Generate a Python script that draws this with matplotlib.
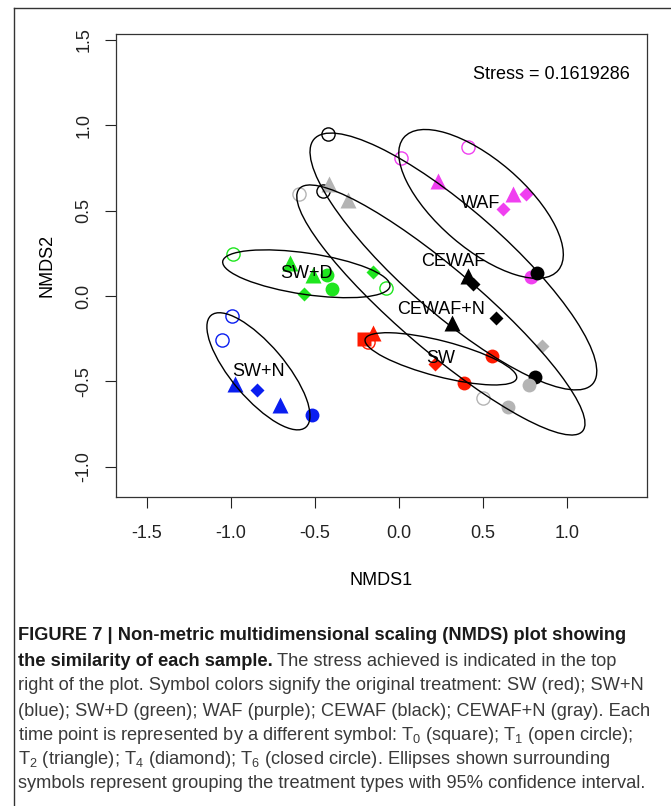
import numpy as np
import matplotlib
matplotlib.use("Agg")
import matplotlib.pyplot as plt
from matplotlib.patches import Ellipse
from matplotlib.lines import Line2D

plt.rcParams['font.family'] = ['Liberation Sans', 'DejaVu Sans']
plt.rcParams['mathtext.default'] = 'regular'
plt.rcParams['axes.unicode_minus'] = False

# NMDS scores
nmds1 = [-0.208, -0.185, -0.157, 0.214, 0.552, 0.389,
         -0.996, -1.055, -0.976, -0.708, -0.843, -0.520,
         -0.986, -0.079, -0.649, -0.510, -0.430, -0.401, -0.564, -0.153,
         0.012, 0.413, 0.230, 0.680, 0.756, 0.617, 0.784,
         -0.421, -0.454, 0.409, 0.439, 0.820, 0.314, 0.577, 0.810,
         -0.595, -0.415, -0.305, 0.853, 0.774, 0.498, 0.651]
nmds2 = [-0.252, -0.268, -0.215, -0.398, -0.350, -0.508,
         -0.117, -0.258, -0.515, -0.638, -0.550, -0.697,
         0.246, 0.045, 0.191, 0.123, 0.120, 0.039, 0.012, 0.142,
         0.806, 0.871, 0.673, 0.597, 0.595, 0.508, 0.109,
         0.948, 0.617, 0.119, 0.070, 0.133, -0.156, -0.131, -0.476,
         0.597, 0.656, 0.562, -0.293, -0.521, -0.599, -0.648]
treatment = ["SW"] * 6 + ["SW+N"] * 6 + ["SW+D"] * 8 + ["WAF"] * 7 + ["CEWAF"] * 8 + ["CEWAF+N"] * 7
timepoint = ["T0", "T1", "T2", "T4", "T6", "T6",
             "T1", "T1", "T2", "T2", "T4", "T6",
             "T1", "T1", "T2", "T2", "T6", "T6", "T4", "T4",
             "T1", "T1", "T2", "T2", "T4", "T4", "T6",
             "T1", "T1", "T2", "T4", "T6", "T2", "T4", "T6",
             "T1", "T2", "T2", "T4", "T6", "T1", "T6"]

colors = {"SW": "#ff1a00", "SW+N": "#0a1ef0", "SW+D": "#1ee61e", "WAF": "#f040f0",
          "CEWAF": "#000000", "CEWAF+N": "#b4b4b4"}

# ellipses: centre and covariance-like shape terms
ell_names = ["SW", "SW+N", "SW+D", "WAF", "CEWAF", "CEWAF+N"]
ell_cx = [0.249, -0.837, -0.552, 0.488, 0.3235, 0.249]
ell_cy = [-0.368, -0.441, 0.130, 0.539, 0.202, -0.082]
ell_sxx = [0.204, 0.0942, 0.248, 0.240, 0.7285, 0.736]
ell_syy = [0.0234, 0.1176, 0.0196, 0.190, 0.5655, 0.536]
ell_sxy = [-0.049, -0.080, -0.034, -0.145, -0.548, -0.570]

xticks = [-1.5, -1.0, -0.5, 0.0, 0.5, 1.0]
yticks = [-1.0, -0.5, 0.0, 0.5, 1.0, 1.5]
stress = 0.1619286

W, H = 671, 806
fig = plt.figure(figsize=(W / 100, H / 100), dpi=100)
ax = fig.add_axes([116 / W, 1 - 497 / H, (647 - 116) / W, (497 - 34) / H])

shape = {"T0": "s", "T1": "o", "T2": "^", "T4": "D", "T6": "o"}
size = {"T0": 10, "T1": 9.5, "T2": 11.5, "T4": 7, "T6": 10}
for x, y, g, t in zip(nmds1, nmds2, treatment, timepoint):
    c = colors[g]
    if t == "T1":
        ax.plot(x, y, marker="o", ms=size[t], mfc="none", mec=c, mew=1.0, zorder=2)
    else:
        ax.plot(x, y, marker=shape[t], ms=size[t], mfc=c, mec="none", zorder=2)

for name, cx, cy, sxx, syy, sxy in zip(ell_names, ell_cx, ell_cy, ell_sxx, ell_syy, ell_sxy):
    vals, vecs = np.linalg.eigh(np.array([[sxx, sxy], [sxy, syy]]))
    ang = np.degrees(np.arctan2(vecs[1, 1], vecs[0, 1]))
    ax.add_patch(Ellipse((cx, cy), 2 * np.sqrt(vals[1]), 2 * np.sqrt(vals[0]), angle=ang,
                         fill=False, ec="black", lw=1.0, zorder=3))
    ax.text(cx, cy, name, ha="center", va="center", fontsize=13, zorder=4)

ax.text(1.375, 1.294, "Stress = %.7f" % stress, ha="right", va="center", fontsize=13)

ax.set_xlim(-1.685, 1.476)
ax.set_ylim(-1.177, 1.534)
ax.set_xticks(xticks)
ax.set_xticklabels(["%.1f" % v for v in xticks])
ax.set_yticks(yticks)
ax.set_yticklabels(["%.1f" % v for v in yticks], rotation=90, va="center")
ax.tick_params(direction="out", length=8, width=0.8, labelsize=13, colors="#222222")
ax.tick_params(axis="x", pad=12)
ax.tick_params(axis="y", pad=9)
for s in ax.spines.values():
    s.set_linewidth(0.9)
    s.set_color("#333333")
ax.set_xlabel("NMDS1", fontsize=13, labelpad=22)
ax.set_ylabel("NMDS2", fontsize=13, labelpad=14)

# outer frame of the figure panel
fig.add_artist(Line2D([14 / W, 14 / W], [0, 1 - 8 / H], transform=fig.transFigure, color="#333333", lw=1))
fig.add_artist(Line2D([14 / W, 1], [1 - 8 / H, 1 - 8 / H], transform=fig.transFigure, color="#333333", lw=1))

# caption
cap_size = 15
lines_y = [636, 661, 686, 711, 735, 759, 784]
x0 = 18 / W
caps = []
caps.append(fig.text(x0, 1 - lines_y[0] / H, "FIGURE 7 | Non-metric multidimensional scaling (NMDS) plot showing",
                     fontsize=cap_size, weight="bold", va="center", color="#1a1a1a"))
b = fig.text(x0, 1 - lines_y[1] / H, "the similarity of each sample.",
             fontsize=cap_size, weight="bold", va="center", color="#1a1a1a")
r2 = fig.text(x0, 1 - lines_y[1] / H, "The stress achieved is indicated in the top",
              fontsize=cap_size, va="center", color="#3a3a3a")
rest = ["right of the plot. Symbol colors signify the original treatment: SW (red); SW+N",
        "(blue); SW+D (green); WAF (purple); CEWAF (black); CEWAF+N (gray). Each",
        "time point is represented by a different symbol: T$_0$ (square); T$_1$ (open circle);",
        "T$_2$ (triangle); T$_4$ (diamond); T$_6$ (closed circle). Ellipses shown surrounding",
        "symbols represent grouping the treatment types with 95% confidence interval."]
for s, yy in zip(rest, lines_y[2:]):
    caps.append(fig.text(x0, 1 - yy / H, s, fontsize=cap_size, va="center", color="#3a3a3a"))

# shrink caption so the widest line spans the panel width (~633 px)
rend = fig.canvas.get_renderer()
widths = [t.get_window_extent(rend).width for t in caps]
widths.append(b.get_window_extent(rend).width + r2.get_window_extent(rend).width + 4)
fs = cap_size * 633 / max(widths)
for t in caps + [b, r2]:
    t.set_fontsize(fs)
bb = b.get_window_extent(rend)
r2.set_x((bb.x1 + 4) / W)

fig.savefig("out.png", dpi=100)
